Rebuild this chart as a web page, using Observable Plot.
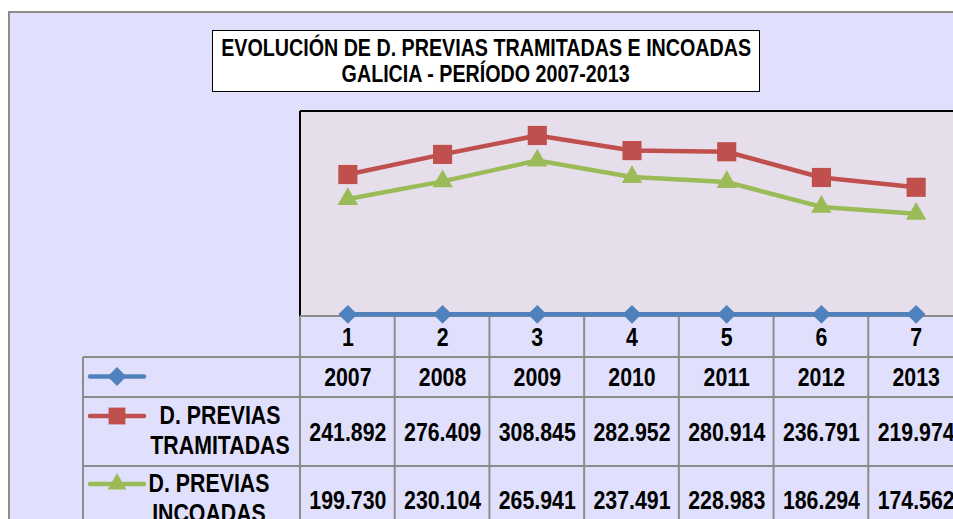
<!DOCTYPE html>
<html>
<head>
<meta charset="utf-8">
<script src="https://cdn.jsdelivr.net/npm/d3@7"></script>
<script src="https://cdn.jsdelivr.net/npm/@observablehq/plot@0.6"></script>
<style>
  html, body { margin: 0; padding: 0; background: #ffffff; }
  #wrap { position: relative; width: 953px; height: 519px; overflow: hidden; }
  #wrap svg { position: absolute; left: 0; top: 0; }
  #title {
    position: absolute; left: 212px; top: 30px; width: 548px; height: 62px;
    box-sizing: border-box; border: 1.5px solid #000; background: #fff;
    font-family: "Liberation Sans", Arial, sans-serif;
    font-weight: bold; font-size: 24px; line-height: 26px; color: #000;
    display: flex; flex-direction: column; justify-content: center; align-items: center;
    overflow: hidden;
  }
  #title div { white-space: nowrap; transform: scaleX(0.82); }
</style>
</head>
<body>
<div id="wrap">
  <div id="title"><div>EVOLUCIÓN DE D. PREVIAS TRAMITADAS E INCOADAS</div><div>GALICIA - PERÍODO 2007-2013</div></div>
</div>
<script>
// ---- data ----
const categories = ["1", "2", "3", "4", "5", "6", "7"];
const years = [2007, 2008, 2009, 2010, 2011, 2012, 2013];
const tramitadas = [241892, 276409, 308845, 282952, 280914, 236791, 219974];
const incoadas = [199730, 230104, 265941, 237491, 228983, 186294, 174562];
const seriesNames = ["", "D. PREVIAS TRAMITADAS", "D. PREVIAS INCOADAS"];
const seriesColors = ["#4F81BD", "#C0504D", "#9BBB59"];
const seriesSymbols = ["diamond2", "square", "triangle"];
const yDomain = [0, 350000];

const FONT = '"Liberation Sans", Arial, sans-serif';
const NARROW = 0.82; // emulate Arial Narrow
const esFmt = d3.formatLocale({decimal: ",", thousands: ".", grouping: [3], currency: ["", "€"]}).format(",d");

const seriesValues = [years, tramitadas, incoadas];
const rows = seriesValues.map((vals, s) => categories.map((c, i) => ({cat: c, value: vals[i], s})));

// chart area background with grey border
function chartArea(index, scales, values, dim) {
  const g = d3.create("svg:g");
  g.append("rect").attr("x", 9).attr("y", 12)
    .attr("width", dim.width + 40).attr("height", dim.height + 40)
    .attr("fill", "#E0E0FC").attr("stroke", "#8C8C8C").attr("stroke-width", 2);
  return g.node();
}

// plot-area border (top, left) and the data table grid + legend keys
function tableGrid(index, scales, values, dim) {
  const x = scales.x;
  const step = x(categories[1]) - x(categories[0]);
  const L = dim.marginLeft, T = dim.marginTop, B = dim.height - dim.marginBottom;
  const labelLeft = 83;
  const rowEdges = [B + 1, B + 42, B + 82, B + 151, B + 220];
  const g = d3.create("svg:g");
  const grid = "#8C8C8C";
  g.append("line").attr("x1", L).attr("x2", dim.width + 20).attr("y1", T).attr("y2", T)
    .attr("stroke", "#000").attr("stroke-width", 2);
  g.append("line").attr("x1", L).attr("x2", L).attr("y1", T).attr("y2", B + 1)
    .attr("stroke", "#000").attr("stroke-width", 2);
  g.append("line").attr("x1", L).attr("x2", dim.width + 20).attr("y1", rowEdges[0]).attr("y2", rowEdges[0])
    .attr("stroke", grid).attr("stroke-width", 2);
  for (let r = 1; r < rowEdges.length; r++) {
    g.append("line").attr("x1", labelLeft).attr("x2", dim.width + 20).attr("y1", rowEdges[r]).attr("y2", rowEdges[r])
      .attr("stroke", grid).attr("stroke-width", 2);
  }
  const xs = categories.map(c => x(c) - step / 2).concat([x(categories[categories.length - 1]) + step / 2]);
  xs.forEach(xv => g.append("line").attr("x1", xv).attr("x2", xv).attr("y1", rowEdges[0]).attr("y2", dim.height + 20)
    .attr("stroke", grid).attr("stroke-width", 2));
  g.append("line").attr("x1", labelLeft).attr("x2", labelLeft).attr("y1", rowEdges[1]).attr("y2", dim.height + 20)
    .attr("stroke", grid).attr("stroke-width", 2);
  const keyY = [rowEdges[1] + 19.5, rowEdges[2] + 19, rowEdges[3] + 18];
  const symbolMap = {diamond2: d3.symbolDiamond2, square: d3.symbolSquare, triangle: d3.symbolTriangle};
  const symSize = {diamond2: Math.PI * 8.5 * 8.5, square: Math.PI * 9.5 * 9.5, triangle: Math.PI * 7 * 7};
  const labelX = [220, 220, 209];
  seriesNames.forEach((name, s) => {
    const ky = keyY[s];
    g.append("line").attr("x1", 90).attr("x2", 144).attr("y1", ky).attr("y2", ky)
      .attr("stroke", seriesColors[s]).attr("stroke-width", 4.5).attr("stroke-linecap", "round");
    g.append("path").attr("transform", `translate(117,${ky})`)
      .attr("d", d3.symbol(symbolMap[seriesSymbols[s]], symSize[seriesSymbols[s]])())
      .attr("fill", seriesColors[s]);
    if (name) {
      const m = name.match(/^(.*) (\S+)$/);
      const lines = m ? [m[1], m[2]] : [name];
      lines.forEach((ln, i) => {
        g.append("text").attr("text-anchor", "middle")
          .attr("transform", `translate(${labelX[s]},${ky + 7.5 + i * 30}) scale(${NARROW},1)`)
          .attr("font-family", FONT).attr("font-weight", "bold").attr("font-size", 26).attr("fill", "#000")
          .text(ln);
      });
    }
  });
  return g.node();
}

const textOpts = {fontFamily: FONT, fontWeight: "bold", fontSize: 26, fill: "#000", frameAnchor: "bottom"};

const chart = Plot.plot({
  width: 953,
  height: 519,
  marginLeft: 300,
  marginRight: -10,
  marginTop: 111,
  marginBottom: 204,
  x: {type: "point", domain: categories, padding: 0.5, round: false, axis: null},
  y: {domain: yDomain, axis: null},
  style: {background: "transparent", overflow: "hidden"},
  marks: [
    chartArea,
    Plot.frame({fill: "#E6DFEB", stroke: "none"}),
    tableGrid,
    ...rows.map((r, s) => Plot.line(r, {x: "cat", y: "value", stroke: seriesColors[s], strokeWidth: 4.5, strokeLinejoin: "round"})),
    ...rows.map((r, s) => Plot.dot(r, {x: "cat", y: "value", symbol: seriesSymbols[s], r: s === 0 ? 8.5 : s === 1 ? 10.8 : 7.6, fill: seriesColors[s], stroke: "none"})),
    Plot.text(categories, {...textOpts, x: d => d, text: d => d, dy: 30}),
    Plot.text(rows[0], {...textOpts, x: "cat", text: d => String(d.value), dy: 70}),
    Plot.text(rows[1], {...textOpts, x: "cat", text: d => esFmt(d.value), dy: 125}),
    Plot.text(rows[2], {...textOpts, x: "cat", text: d => esFmt(d.value), dy: 193})
  ]
});

// condense the table's text horizontally (no narrow font installed)
d3.select(chart).selectAll("g[aria-label='text'] text").each(function() {
  const t = this.getAttribute("transform") || "";
  this.setAttribute("transform", `${t} scale(${NARROW},1)`);
});

document.getElementById("wrap").insertBefore(chart, document.getElementById("title"));
</script>
</body>
</html>
